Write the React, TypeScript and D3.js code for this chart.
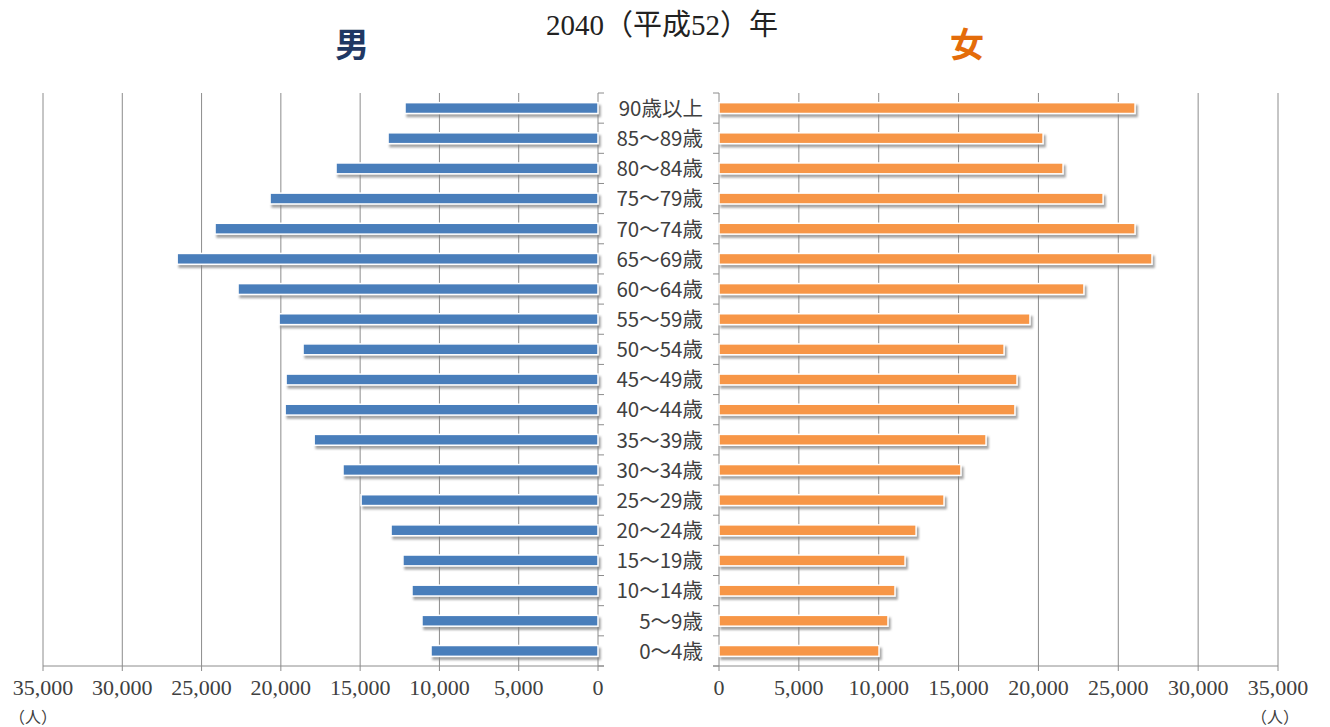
import React from "react";
import * as d3 from "d3";

const categories = [
  "90歳以上", "85～89歳", "80～84歳", "75～79歳", "70～74歳", "65～69歳", "60～64歳",
  "55～59歳", "50～54歳", "45～49歳", "40～44歳", "35～39歳", "30～34歳", "25～29歳",
  "20～24歳", "15～19歳", "10～14歳", "5～9歳", "0～4歳",
];
const male = [
  12170, 13240, 16520, 20680, 24150, 26540, 22700, 20110, 18600, 19670, 19730,
  17900, 16080, 14940, 13050, 12300, 11730, 11100, 10530,
];
const female = [
  26050, 20290, 21540, 24050, 26050, 27110, 22850, 19470, 17850, 18660, 18530,
  16720, 15150, 14090, 12340, 11650, 11020, 10580, 10020,
];
const ticks = [0, 5000, 10000, 15000, 20000, 25000, 30000, 35000];
const title = "2040（平成52）年";
const unit = "（人）";

const W = 1330;
const H = 727;
const TOP = 93;
const BOTTOM = 666;

export default function App() {
  const xL = d3.scaleLinear().domain([0, 35000]).range([598, 43]);
  const xR = d3.scaleLinear().domain([0, 35000]).range([719, 1278]);
  const y = d3.scaleBand<string>().domain(categories).range([TOP, BOTTOM]).paddingInner(0.64).paddingOuter(0.32);
  const bh = y.bandwidth();
  const fmt = d3.format(",");
  const bounds = d3.range(categories.length + 1).map((i) => TOP + i * ((BOTTOM - TOP) / categories.length));
  const grid = "#8c8c8c";
  const labelFont = "'Noto Sans CJK JP', 'DejaVu Sans', sans-serif";
  const serif = "'Liberation Serif', 'Noto Sans CJK JP', serif";

  return (
    <svg width={W} height={H} style={{ position: "absolute", left: 0, top: 0, background: "#fff" }}>
      <defs>
        <filter id="sh" x="-5%" y="-50%" width="110%" height="250%">
          <feDropShadow dx="2" dy="3" stdDeviation="1.3" floodColor="#7f7f7f" floodOpacity="0.7" />
        </filter>
      </defs>
      <rect width={W} height={H} fill="#fff" />
      {/* title */}
      <text x={662} y={35} textAnchor="middle" fontSize={29} fill="#222" fontFamily={serif}>{title}</text>
      <text x={352} y={57} textAnchor="middle" fontSize={34} fontWeight="bold" fill="#1f3864"
        fontFamily={labelFont}>男</text>
      <text x={967} y={57} textAnchor="middle" fontSize={34} fontWeight="bold" fill="#e46c0a"
        fontFamily={labelFont}>女</text>

      {/* gridlines */}
      {ticks.map((t) => (
        <line key={"gl" + t} x1={xL(t)} x2={xL(t)} y1={TOP} y2={BOTTOM + 5} stroke={grid} strokeWidth={1} />
      ))}
      {ticks.map((t) => (
        <line key={"gr" + t} x1={xR(t)} x2={xR(t)} y1={TOP} y2={BOTTOM + 5} stroke={grid} strokeWidth={1} />
      ))}
      {/* bottom axis lines */}
      <line x1={xL(35000)} x2={xL(0) + 6} y1={BOTTOM} y2={BOTTOM} stroke={grid} />
      <line x1={xR(0) - 6} x2={xR(35000)} y1={BOTTOM} y2={BOTTOM} stroke={grid} />
      {/* category ticks */}
      {bounds.map((b, i) => (
        <g key={"cb" + i}>
          <line x1={xL(0)} x2={xL(0) + 6} y1={b} y2={b} stroke={grid} />
          <line x1={xR(0) - 6} x2={xR(0)} y1={b} y2={b} stroke={grid} />
        </g>
      ))}

      {/* bars */}
      {categories.map((c, i) => (
        <g key={"b" + c} filter="url(#sh)">
          <rect x={xL(male[i])} y={y(c)!} width={xL(0) - xL(male[i])} height={bh}
            fill="#4a7ebb" stroke="#fff" strokeWidth={1.5} />
          <rect x={xR(0)} y={y(c)!} width={xR(female[i]) - xR(0)} height={bh}
            fill="#f79646" stroke="#fff" strokeWidth={1.5} />
        </g>
      ))}

      {/* category labels */}
      {categories.map((c) => (
        <text key={"l" + c} x={703} y={y(c)! + bh / 2} dy="0.38em" textAnchor="end" fontSize={20.5}
          fill="#404040" fontFamily={labelFont}>{c}</text>
      ))}

      {/* axis tick labels */}
      {ticks.map((t) => (
        <text key={"tl" + t} x={xL(t)} y={695} textAnchor="middle" fontSize={22} fill="#404040"
          fontFamily={serif}>{fmt(t)}</text>
      ))}
      {ticks.map((t) => (
        <text key={"tr" + t} x={xR(t)} y={695} textAnchor="middle" fontSize={22} fill="#404040"
          fontFamily={serif}>{fmt(t)}</text>
      ))}
      <text x={33} y={723} textAnchor="middle" fontSize={16} fill="#404040" fontFamily={labelFont}>{unit}</text>
      <text x={1275} y={723} textAnchor="middle" fontSize={16} fill="#404040" fontFamily={labelFont}>{unit}</text>
    </svg>
  );
}
